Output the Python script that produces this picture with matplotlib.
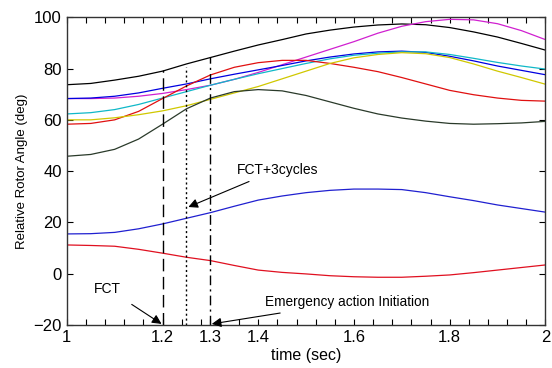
import numpy as np
from matplotlib import pyplot as plt
from matplotlib.ticker import MultipleLocator

plt.rcParams['font.family'] = ['Liberation Sans', 'DejaVu Sans']

# time axis (sec)
t = [1.0, 1.05, 1.1, 1.15, 1.2, 1.25, 1.3, 1.35, 1.4, 1.45, 1.5,
     1.55, 1.6, 1.65, 1.7, 1.75, 1.8, 1.85, 1.9, 1.95, 2.0]

# relative rotor angles (deg)
gen_black = [73.7, 74.2, 75.5, 77.0, 79.0, 81.8, 84.3, 86.8, 89.2, 91.3, 93.5,
             95.0, 96.2, 97.0, 97.4, 97.1, 96.0, 94.3, 92.3, 89.8, 87.2]
gen_magenta = [68.3, 68.3, 68.5, 69.2, 70.3, 71.8, 73.5, 75.8, 78.5, 81.5, 84.5,
               87.5, 90.5, 93.8, 96.5, 98.3, 99.2, 99.0, 97.5, 94.8, 91.3]
gen_blue = [68.3, 68.5, 69.2, 70.5, 72.3, 74.0, 76.0, 77.8, 79.5, 81.2, 83.0,
            84.5, 85.7, 86.5, 86.8, 86.3, 84.8, 83.0, 81.0, 79.3, 77.6]
gen_cyan = [62.3, 62.8, 64.0, 66.0, 68.5, 71.0, 73.5, 75.8, 78.0, 80.0, 82.0,
            83.8, 85.2, 86.0, 86.5, 86.5, 85.5, 84.0, 82.4, 81.0, 79.8]
gen_red = [58.3, 58.6, 60.0, 63.3, 68.3, 73.2, 77.5, 80.5, 82.3, 83.2, 83.2,
           82.0, 80.5, 78.8, 76.5, 74.0, 71.5, 69.8, 68.5, 67.6, 67.3]
gen_yellow = [60.0, 60.0, 60.8, 62.0, 63.5, 65.5, 68.0, 70.5, 73.0, 76.0, 79.0,
              82.0, 84.2, 85.5, 86.2, 85.8, 84.3, 81.8, 79.0, 76.5, 73.9]
gen_green = [45.8, 46.5, 48.5, 52.5, 58.3, 64.3, 68.5, 71.0, 71.8, 71.3, 69.5,
             67.0, 64.5, 62.3, 60.7, 59.5, 58.6, 58.3, 58.5, 58.8, 59.4]
gen_blue2 = [15.5, 15.6, 16.1, 17.5, 19.4, 21.6, 23.8, 26.3, 28.7, 30.3, 31.6,
             32.5, 33.0, 33.0, 32.8, 31.6, 30.0, 28.5, 26.8, 25.4, 24.0]
gen_red2 = [11.2, 11.0, 10.7, 9.5, 8.0, 6.4, 5.1, 3.2, 1.4, 0.5, -0.1,
            -0.8, -1.2, -1.4, -1.4, -1.0, -0.5, 0.4, 1.4, 2.4, 3.4]

series = [gen_black, gen_magenta, gen_blue, gen_cyan, gen_red,
          gen_yellow, gen_green, gen_blue2, gen_red2]
colors = ['black', '#d020d0', '#0000e0', '#10b8c8', '#e01010',
          '#d0c800', '#2a3a2a', '#2020d0', '#e01020']

# event markers
event_t = [1.2, 1.25, 1.3]
event_top = [79.4, 80.5, 84.4]
event_style = [(0, (9, 4)), (0, (1.5, 2)), (0, (7, 3, 1.5, 3))]

fig = plt.figure(figsize=(5.52, 3.68), dpi=100)
ax = fig.add_axes([0.121, 0.117, 0.867, 0.836])

for y, c in zip(series, colors):
    ax.plot(t, y, color=c, lw=0.9)

for x, top, ls in zip(event_t, event_top, event_style):
    ax.plot([x, x], [-20, top], color='black', lw=1.0, linestyle=ls)

arrow = dict(arrowstyle='-|>', color='black', lw=0.8, mutation_scale=14)
ax.annotate('FCT', xy=(1.198, -19.6), xytext=(1.085, -5.8),
            ha='center', va='center', fontsize=10, arrowprops=dict(arrow, shrinkA=8, shrinkB=0))
ax.annotate('FCT+3cycles', xy=(1.254, 26.0), xytext=(1.355, 40.6),
            ha='left', va='center', fontsize=10, arrowprops=dict(arrow, shrinkA=4, shrinkB=0))
ax.annotate('Emergency action Initiation', xy=(1.303, -19.6), xytext=(1.414, -11.2),
            ha='left', va='center', fontsize=9.8, arrowprops=dict(arrow, shrinkA=4, shrinkB=0))

ax.set_xlim(1, 2)
ax.set_ylim(-20, 100)
ax.set_xticks([1, 1.2, 1.3, 1.4, 1.6, 1.8, 2])
ax.set_xticklabels(['1', '1.2', '1.3', '1.4', '1.6', '1.8', '2'])
ax.xaxis.set_minor_locator(MultipleLocator(0.04))
ax.set_yticks([-20, 0, 20, 40, 60, 80, 100])
ax.tick_params(which='both', direction='in', top=True, right=True, length=4, width=0.8,
               labelsize=12)
ax.tick_params(axis='x', pad=4)
for s in ax.spines.values():
    s.set_linewidth(1.0)
    s.set_color('#333333')

ax.set_xlabel('time (sec)', fontsize=11.5, labelpad=2)
ax.set_ylabel('Relative Rotor Angle (deg)', fontsize=9.5, labelpad=4)

fig.savefig('out.png', dpi=100)
